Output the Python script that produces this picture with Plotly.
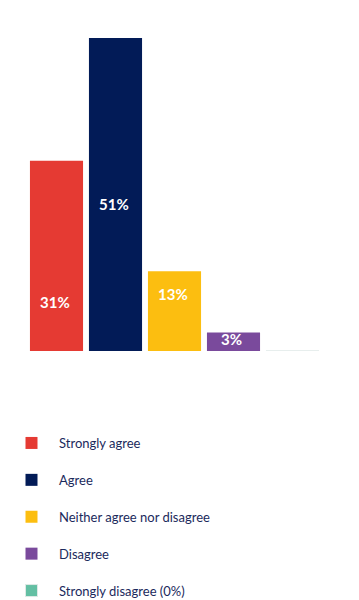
import plotly.graph_objects as go

categories = ["Strongly agree", "Agree", "Neither agree nor disagree", "Disagree", "Strongly disagree (0%)"]
values = [31, 51, 13, 3, 0]
labels = ["31%", "51%", "13%", "3%", ""]
label_pos = [8.0, 23.9, 9.3, 1.95, 0]
colors = ["#E53A33", "#021B57", "#FCBE10", "#7A4A9C", "#63BFA3"]

fig = go.Figure()
for i, (cat, v, c) in enumerate(zip(categories, values, colors)):
    fig.add_trace(go.Bar(
        x=[i], y=[v], name=cat, marker_color=c,
        marker_line=dict(width=1, color="#dfe9e6") if v == 0 else dict(width=0),
        legendgroup=cat, showlegend=True, hoverinfo="skip",
    ))
    if labels[i]:
        fig.add_annotation(x=i, y=label_pos[i], text=labels[i], showarrow=False,
                           font=dict(family="Lato", size=15, color="white", weight="bold"),
                           xref="x", yref="y", xshift=-2)

fig.update_layout(
    width=359, height=600,
    margin=dict(l=27, r=37, t=38, b=249, autoexpand=False),
    paper_bgcolor="white", plot_bgcolor="white",
    bargap=0.1,
    xaxis=dict(range=[-0.5, 4.5], visible=False, fixedrange=True),
    yaxis=dict(range=[0, 51], visible=False, fixedrange=True),
    showlegend=True,
    legend=dict(
        orientation="v", xref="container", yref="container",
        x=4/359, y=1-428/600, xanchor="left", yanchor="top",
        itemwidth=45, tracegroupgap=17, traceorder="grouped",
        font=dict(family="Lato", size=13, color="#1B2A5C"),
        bgcolor="rgba(0,0,0,0)",
    ),
)
fig.write_html("out.html", post_script="document.body.style.margin='0px';",
               config={"displayModeBar": False})
